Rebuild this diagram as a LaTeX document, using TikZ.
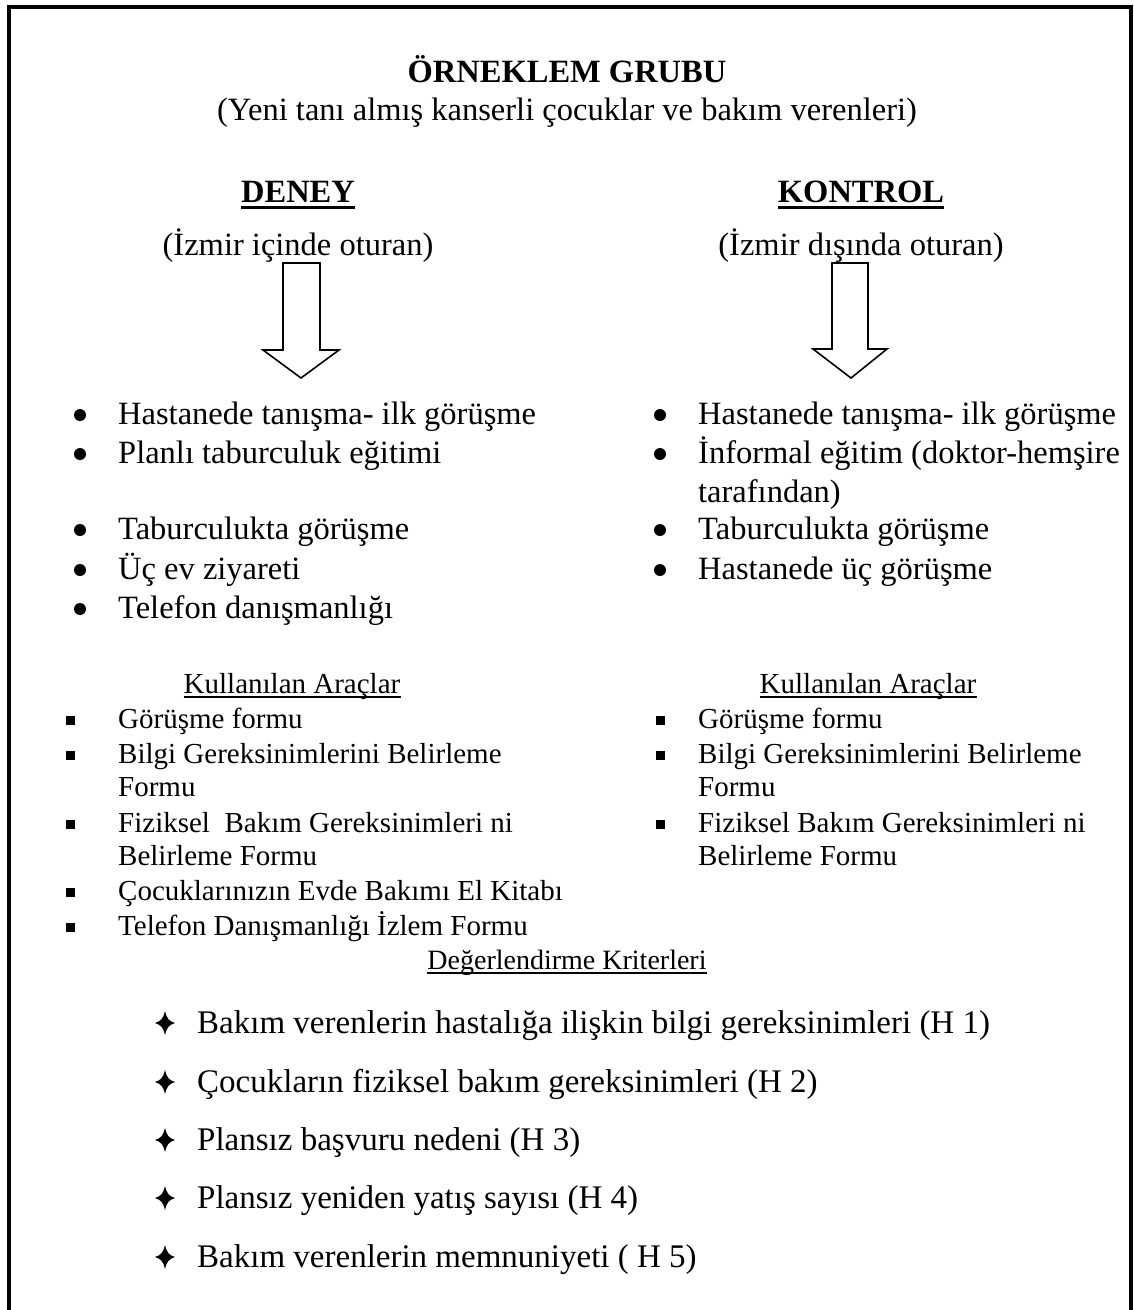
\documentclass[tikz,border=0pt]{standalone}
\usepackage{fontspec}
\setmainfont{Liberation Serif}
\usetikzlibrary{positioning}

\begin{document}
\begin{tikzpicture}[x=1pt,y=-1pt,
  every node/.style={font=\fontsize{32.5}{39}\selectfont,inner sep=0pt},
  hd/.style={anchor=base,font=\fontsize{32.5}{39}\selectfont\bfseries},
  ctr/.style={anchor=base},
  it/.style={anchor=base west},
  sm/.style={font=\fontsize{29}{34}\selectfont},
  lg/.style={font=\fontsize{33}{40}\selectfont},
  dot/.style={circle,fill,minimum size=12pt},
  sq/.style={rectangle,fill,minimum size=9pt},
  blk/.style={line width=1.6pt,line join=miter}]
\useasboundingbox (0,0) rectangle (1134,1310);
\draw[line width=4pt] (9,1312) -- (9,7) -- (1131,7) -- (1131,1312);

% header
\node[hd] (title) at (567,82) {ÖRNEKLEM GRUBU};
\node[ctr] (sub) at (567,120) {(Yeni tanı almış kanserli çocuklar ve bakım verenleri)};

\node[hd] (deney) at (298,202) {DENEY};
\node[hd] (kontrol) at (861,202) {KONTROL};
\draw[line width=3pt] ([yshift=-5pt]deney.base west) -- ([yshift=-5pt]deney.base east);
\draw[line width=3pt] ([yshift=-5pt]kontrol.base west) -- ([yshift=-5pt]kontrol.base east);
\node[ctr] (izL) at (298,255) {(İzmir içinde oturan)};
\node[ctr] (izR) at (861,255) {(İzmir dışında oturan)};

% block arrows
\draw[blk] (283,263) -- (320,263) -- (320,350) -- (339,350) -- (301,378) -- (263,350) -- (283,350) -- cycle;
\draw[blk] (832,263) -- (868,263) -- (868,349) -- (887,349) -- (851,378) -- (813,349) -- (832,349) -- cycle;

% deney
\node[it] (l1) at (118,424) {Hastanede tanışma- ilk görüşme};
\node[below=39pt of l1.base west,it] (l2) {Planlı taburculuk eğitimi};
\node[it] (l3) at (118,539) {Taburculukta görüşme};
\node[below=40pt of l3.base west,it] (l4) {Üç ev ziyareti};
\node[below=39pt of l4.base west,it] (l5) {Telefon danışmanlığı};

% kontrol
\node[it] (r1) at (698,424) {Hastanede tanışma- ilk görüşme};
\node[below=39pt of r1.base west,it] (r2) {İnformal eğitim (doktor-hemşire};
\node[below=39pt of r2.base west,it] (r2b) {tarafından)};
\node[below=37pt of r2b.base west,it] (r3) {Taburculukta görüşme};
\node[below=40pt of r3.base west,it] (r4) {Hastanede üç görüşme};

\foreach \n in {l1,l2,l3,l4,l5,r1,r2,r3,r4}
  \node[dot] (b\n) at ([xshift=-38pt,yshift=9pt]\n.base west) {};

% araclar
\node[ctr,sm] (aL) at (292,693) {Kullanılan Araçlar};
\node[ctr,sm] (aR) at (868,693) {Kullanılan Araçlar};
\draw[line width=2pt] ([yshift=-4pt]aL.base west) -- ([yshift=-4pt]aL.base east);
\draw[line width=2pt] ([yshift=-4pt]aR.base west) -- ([yshift=-4pt]aR.base east);

\node[it,sm] (t1) at (118,728) {Görüşme formu};
\node[below=35pt of t1.base west,it,sm] (t2) {Bilgi Gereksinimlerini Belirleme};
\node[below=33pt of t2.base west,it,sm] (t2b) {Formu};
\node[below=36pt of t2b.base west,it,sm] (t3) {Fiziksel\ \ Bakım Gereksinimleri ni};
\node[below=33pt of t3.base west,it,sm] (t3b) {Belirleme Formu};
\node[below=35pt of t3b.base west,it,sm] (t4) {Çocuklarınızın Evde Bakımı El Kitabı};
\node[below=35pt of t4.base west,it,sm] (t5) {Telefon Danışmanlığı İzlem Formu};

\node[it,sm] (u1) at (698,728) {Görüşme formu};
\node[below=35pt of u1.base west,it,sm] (u2) {Bilgi Gereksinimlerini Belirleme};
\node[below=33pt of u2.base west,it,sm] (u2b) {Formu};
\node[below=36pt of u2b.base west,it,sm] (u3) {Fiziksel Bakım Gereksinimleri ni};
\node[below=33pt of u3.base west,it,sm] (u3b) {Belirleme Formu};

\foreach \n in {t1,t2,t3,t4,t5}
  \node[sq] (s\n) at ([xshift=-48pt,yshift=8pt]\n.base west) {};
\foreach \n in {u1,u2,u3}
  \node[sq] (s\n) at ([xshift=-38pt,yshift=8pt]\n.base west) {};

% kriterler
\node[ctr,font=\fontsize{28}{33}\selectfont] (dk) at (567,969) {Değerlendirme Kriterleri};
\draw[line width=2pt] ([yshift=-4pt]dk.base west) -- ([yshift=-4pt]dk.base east);

\node[it,lg] (k1) at (197,1033) {Bakım verenlerin hastalığa ilişkin bilgi gereksinimleri (H 1)};
\node[below=59pt of k1.base west,it,lg] (k2) {Çocukların fiziksel bakım gereksinimleri (H 2)};
\node[below=58pt of k2.base west,it,lg] (k3) {Plansız başvuru nedeni (H 3)};
\node[below=58pt of k3.base west,it,lg] (k4) {Plansız yeniden yatış sayısı (H 4)};
\node[below=59pt of k4.base west,it,lg] (k5) {Bakım verenlerin memnuniyeti ( H 5)};

\foreach \n in {k1,k2,k3,k4,k5}{
  \coordinate (c\n) at ([xshift=-32pt,yshift=10pt]\n.base west);
  \fill[shift={(c\n)}] (0,-12) .. controls (2,-4) and (4,-2) .. (10,0) .. controls (4,2) and (2,4) .. (0,12)
    .. controls (-2,4) and (-4,2) .. (-10,0) .. controls (-4,-2) and (-2,-4) .. (0,-12) -- cycle;
}
\end{tikzpicture}
\end{document}
